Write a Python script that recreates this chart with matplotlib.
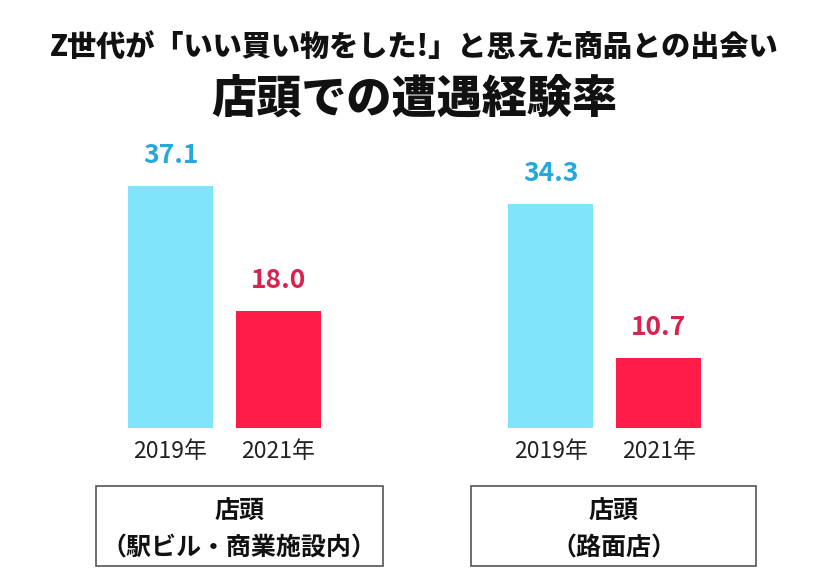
import matplotlib
matplotlib.use("Agg")
import matplotlib.pyplot as plt
from matplotlib.patches import Rectangle

plt.rcParams['font.family'] = ['Noto Sans CJK JP', 'DejaVu Sans']

# Data
categories = ["店頭\n（駅ビル・商業施設内）", "店頭\n（路面店）"]
years = ["2019年", "2021年"]
values_2019 = [37.1, 34.3]
values_2021 = [18.0, 10.7]
title_line1 = "Z世代が「いい買い物をした!」と思えた商品との出会い"
title_line2 = "店頭での遭遇経験率"

bar_colors = ["#80E4FB", "#FF1C48"]
text_colors = ["#27A8DA", "#D8234F"]

W, H = 828, 582
fig = plt.figure(figsize=(W / 100, H / 100), dpi=100)
fig.patch.set_facecolor("white")

# axes: bottom at pixel 428, 40 units -> 260.8 px
ax = fig.add_axes([0, (H - 428) / H, 1, 260.8 / H])
ax.set_ylim(0, 40)
spacing = 380.2
ax.set_xlim(-224.5 / spacing, (W - 224.5) / spacing)
ax.axis("off")

offset = 54 / spacing
width = 84.5 / spacing
xs = list(range(len(categories)))

series = [values_2019, values_2021]
for si, vals in enumerate(series):
    pos = [x + (-offset if si == 0 else offset) for x in xs]
    ax.bar(pos, vals, width=width, color=bar_colors[si])
    for p, v in zip(pos, vals):
        ax.annotate(f"{v:.1f}", (p, v), xytext=(0, 23), textcoords="offset pixels",
                    ha="center", va="baseline", fontsize=19, fontweight="bold",
                    color=text_colors[si])
        ax.annotate(years[si], (p, 0), xytext=(0, -23), textcoords="offset pixels",
                    ha="center", va="center", fontsize=16.5, color="#222222")

# Category boxes
boxes = [(95.7, 382.7), (470.7, 756.3)]
for cat, (x0, x1) in zip(categories, boxes):
    y0, y1 = 485.7, 565.5
    fig.patches.append(Rectangle((x0 / W, 1 - y1 / H), (x1 - x0) / W, (y1 - y0) / H,
                                 transform=fig.transFigure, fill=False,
                                 edgecolor="#555555", linewidth=1.2))
    line1, line2 = cat.split("\n")
    xc = (x0 + x1) / 2 / W
    fig.text(xc, 1 - 512 / H, line1, ha="center", va="center", fontsize=18,
             fontweight="bold", color="#111111")
    fig.text(xc, 1 - 549 / H, line2, ha="center", va="center", fontsize=18,
             fontweight="bold", color="#111111")

# Titles
fig.text(0.5, 1 - 47 / H, title_line1, ha="center", va="center", fontsize=21,
         fontweight="heavy", color="#111111")
fig.text(0.5, 1 - 99 / H, title_line2, ha="center", va="center", fontsize=32.5,
         fontweight="heavy", color="#111111")

fig.savefig("out.png", dpi=100, facecolor="white")
